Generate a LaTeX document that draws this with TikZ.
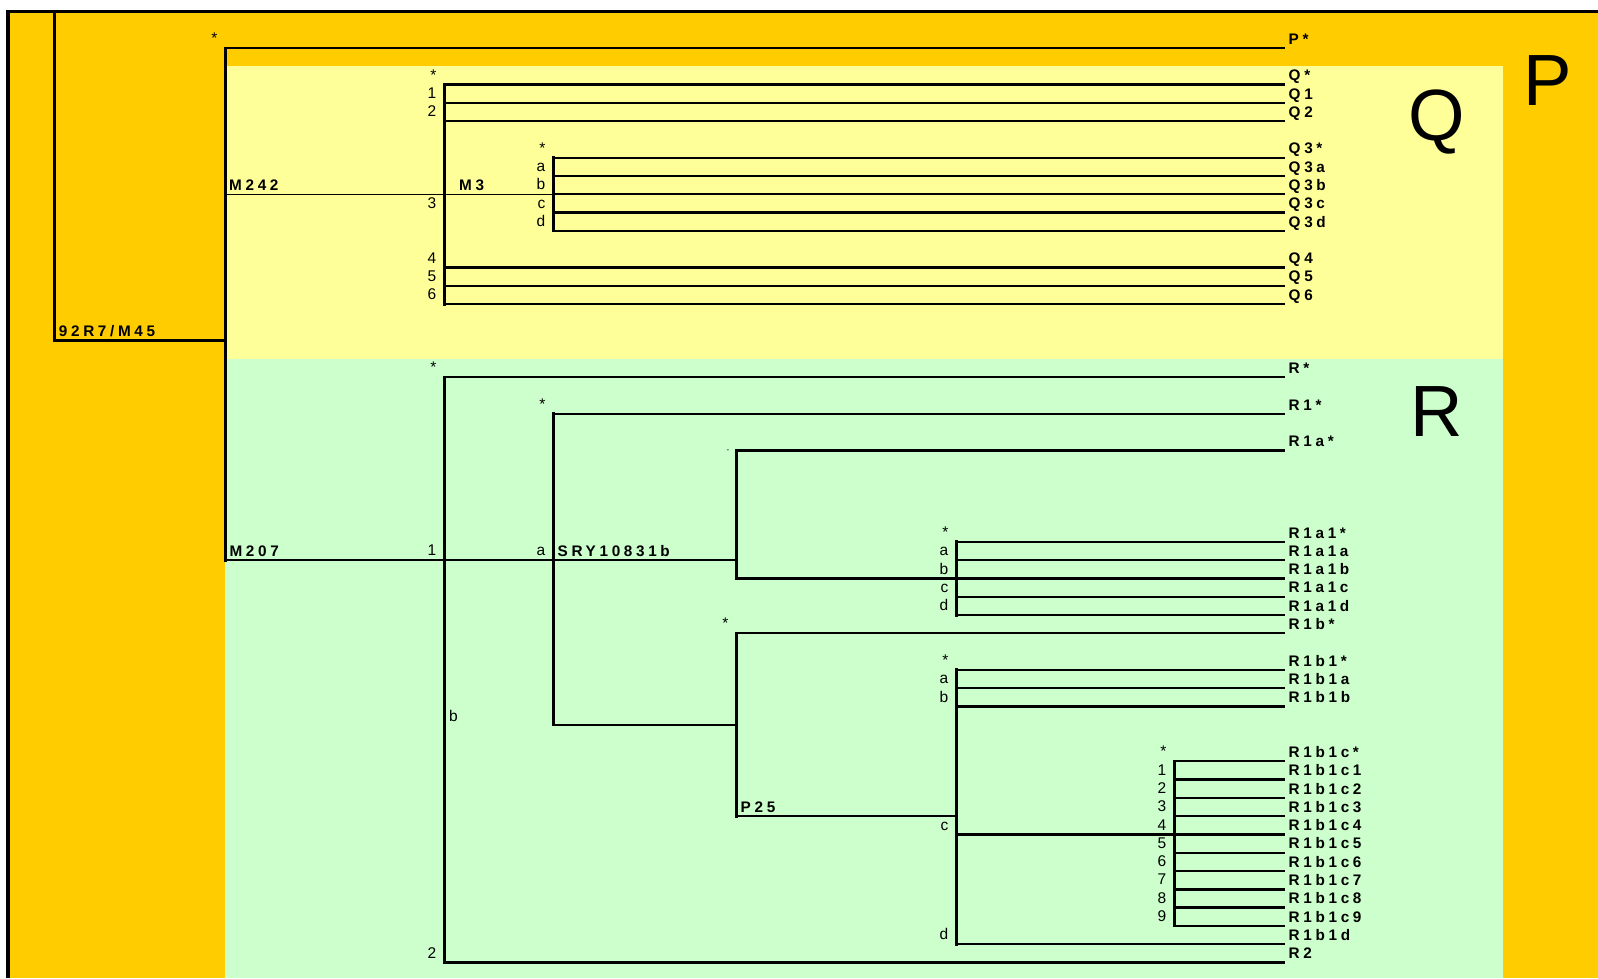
\documentclass[tikz,border=0pt]{standalone}
\usepackage{fontspec}
\setmainfont{Liberation Sans}
\newfontfamily\labfont{Liberation Sans}[LetterSpace=24]
\definecolor{orng}{HTML}{FFCC00}
\definecolor{yel}{HTML}{FFFF99}
\definecolor{grn}{HTML}{CCFFCC}
\newcommand\yy[1]{48+18.29*#1}
\begin{document}
\begin{tikzpicture}[x=1pt,y=-1pt,
  vline/.style={line width=3pt,line cap=rect},
  hline/.style={line width=2.3pt,line cap=rect},
  thinline/.style={line width=1.6pt,line cap=rect},
  leaf/.style={anchor=base west,inner sep=0pt,font={\fontsize{15.3}{18}\labfont\bfseries}},
  sm/.style={anchor=base east,inner sep=0pt,font={\fontsize{15.5}{18}\selectfont}},
  big/.style={anchor=base,inner sep=0pt,font={\fontsize{72.6}{80}\selectfont}}]
\useasboundingbox (0,0) rectangle (1598,978);
% backgrounds
\fill[white] (0,0) rectangle (1598,978);
\fill[orng] (8,11.5) rectangle (1598,978);
\fill[yel] (225,66) rectangle (1503,359);
\fill[grn] (225,359) rectangle (1503,978);
\draw[line width=4pt] (8,978) -- (8,10);
\draw[line width=2.7pt] (6,11.5) -- (1598,11.5);
% big letters
\node[big] (bigP) at (1547.5,105) {P};
\node[big] (bigQ) at (1436.6,140) {Q};
\node[big] (bigR) at (1436.5,436) {R};
% junction coordinates
\coordinate (rt) at (54,11.5);
\coordinate (rb) at (54,{\yy{16}});
\coordinate (pm) at (225,{\yy{16}});
\coordinate (pt) at (225,{\yy{0}});
\coordinate (pb) at (225,{\yy{28}});
\coordinate (qt) at (444,{\yy{2}});
\coordinate (qb) at (444,{\yy{14}});
\coordinate (q3t) at (553,{\yy{6}});
\coordinate (q3b) at (553,{\yy{10}});
\coordinate (m242) at (225,{\yy{8}});
\coordinate (q3m) at (553,{\yy{8}});
\coordinate (rt2) at (444,{\yy{18}});
\coordinate (rb2) at (444,{\yy{50}});
\coordinate (r1t) at (553,{\yy{20}});
\coordinate (r1b) at (553,{\yy{37}});
\coordinate (r1at) at (736,{\yy{22}});
\coordinate (r1ab) at (736,{\yy{29}});
\coordinate (m207) at (225,{\yy{28}});
\coordinate (r1am) at (736,{\yy{28}});
\coordinate (r1a1m) at (956,{\yy{29}});
\coordinate (r1a1t) at (956,{\yy{27}});
\coordinate (r1a1b) at (956,{\yy{31}});
\coordinate (r1bt) at (736,{\yy{32}});
\coordinate (r1bb) at (736,{\yy{42}});
\coordinate (r1bm) at (736,{\yy{37}});
\coordinate (r1b1m) at (956,{\yy{42}});
\coordinate (r1b1t) at (956,{\yy{34}});
\coordinate (r1b1b) at (956,{\yy{49}});
\coordinate (cm) at (956,{\yy{43}});
\coordinate (c4) at (1174,{\yy{43}});
\coordinate (ct) at (1174,{\yy{39}});
\coordinate (cb) at (1174,{\yy{48}});
% verticals
\draw[vline] (rt) -- (rb);
\draw[vline] (pt) -- (pb);
\draw[vline] (qt) -- (qb);
\draw[vline] (q3t) -- (q3b);
\draw[vline] (rt2) -- (rb2);
\draw[vline] (r1t) -- (r1b);
\draw[vline] (r1at) -- (r1ab);
\draw[vline] (r1a1t) -- (r1a1b);
\draw[vline] (r1bt) -- (r1bb);
\draw[vline] (r1b1t) -- (r1b1b);
\draw[vline] (ct) -- (cb);
% internal horizontals
\draw[hline] (rb) -- (pm);
\draw[thinline] (m242) -- (q3m);
\draw[hline] (m207) -- (r1am);
\draw[hline] (r1ab) -- (r1a1m);
\draw[hline] (r1b) -- (r1bm);
\draw[hline] (r1bb) -- (r1b1m);
\draw[hline] (cm) -- (c4);
% leaves
\foreach \k/\x/\t [count=\i] in {
  0/225/P*, 2/444/Q*, 3/444/Q1, 4/444/Q2,
  6/553/Q3*, 7/553/Q3a, 8/553/Q3b, 9/553/Q3c, 10/553/Q3d,
  12/444/Q4, 13/444/Q5, 14/444/Q6,
  18/444/R*, 20/553/R1*, 22/736/R1a*,
  27/956/R1a1*, 28/956/R1a1a, 29/956/R1a1b, 30/956/R1a1c, 31/956/R1a1d,
  32/736/R1b*, 34/956/R1b1*, 35/956/R1b1a, 36/956/R1b1b,
  39/1174/R1b1c*, 40/1174/R1b1c1, 41/1174/R1b1c2, 42/1174/R1b1c3, 43/1174/R1b1c4,
  44/1174/R1b1c5, 45/1174/R1b1c6, 46/1174/R1b1c7, 47/1174/R1b1c8, 48/1174/R1b1c9,
  49/956/R1b1d, 50/444/R2} {
  \coordinate (s\i) at (\x,{\yy{\k}});
  \coordinate (e\i) at (1284,{\yy{\k}});
  \node[leaf] (L\i) at (1288.5,{\yy{\k}-3.8}) {\t};
  \draw[hline] (s\i) -- (e\i);
}
% inline bold labels
\node[leaf] (n92) at (58.7,336.7) {92R7/M45};
\node[leaf] (nM242) at (229,190) {M242};
\node[leaf] (nM3) at (459,190.7) {M3};
\node[leaf] (nM207) at (229.3,556) {M207};
\node[leaf] (nSRY) at (557.5,556) {SRY10831b};
\node[leaf] (nP25) at (740.5,812.5) {P25};
% small branch labels
\foreach \x/\k/\t [count=\i] in {
  225/0/*, 444/2/*, 444/3/1, 444/4/2, 444/9/3, 444/12/4, 444/13/5, 444/14/6,
  553/6/*, 553/7/a, 553/8/b, 553/9/c, 553/10/d,
  444/18/*, 444/28/1, 444/50/2, 553/20/*, 553/28/a, 736/32/*,
  956/27/*, 956/28/a, 956/29/b, 956/30/c, 956/31/d,
  956/34/*, 956/35/a, 956/36/b, 956/43/c, 956/49/d,
  1174/39/*, 1174/40/1, 1174/41/2, 1174/42/3, 1174/43/4, 1174/44/5,
  1174/45/6, 1174/46/7, 1174/47/8, 1174/48/9} {
  \node[sm] (b\i) at ({\x-7.5},{\yy{\k}-4.4}) {\t};
}
\node[inner sep=0pt,font={\fontsize{8}{9}\selectfont}] (dash) at (728,451) {-};
\node[sm,anchor=base west] (bb) at (449,721.5) {b};
\end{tikzpicture}
\end{document}
